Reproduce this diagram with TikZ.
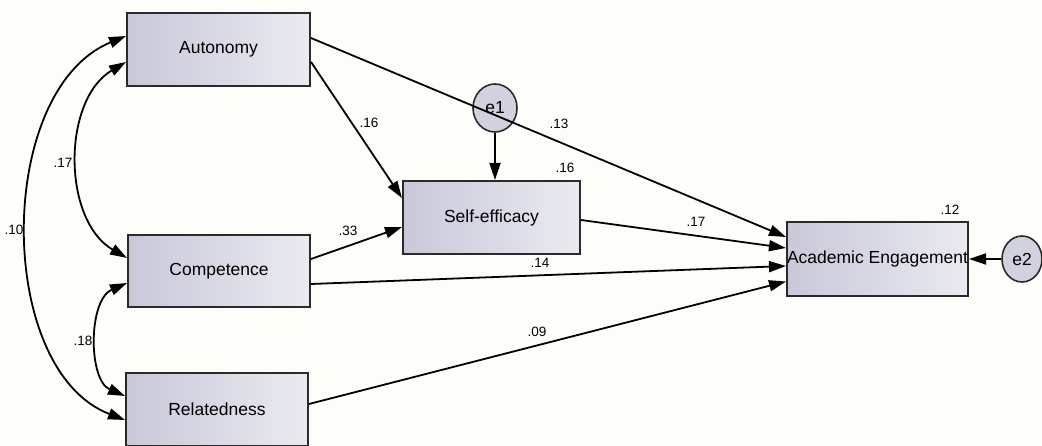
\documentclass[tikz,border=0pt]{standalone}
\usepackage{fontspec}
\setmainfont{Liberation Sans}
\usetikzlibrary{arrows.meta,calc,shapes.geometric}
\definecolor{bgc}{HTML}{FDFDF9}
\definecolor{boxl}{HTML}{C8C8D9}
\definecolor{boxr}{HTML}{EAEAF0}
\definecolor{edgec}{HTML}{2A2A2A}
\definecolor{ellc}{HTML}{D2D2DE}
\tikzset{
  box/.style={draw=edgec, line width=2pt, left color=boxl, right color=boxr, font=\fontsize{17.5}{20}\selectfont, inner sep=0pt},
  errnode/.style={ellipse, draw=edgec, line width=1.6pt, fill=ellc, font=\fontsize{17.5}{20}\selectfont, inner sep=0pt},
  arr/.style={line width=1.8pt, -{Triangle[length=17pt,width=11pt]}},
  darr/.style={line width=1.8pt, {Triangle[length=17pt,width=11pt]}-{Triangle[length=17pt,width=11pt]}},
  lab/.style={font=\fontsize{13.5}{15}\selectfont, inner sep=0pt}
}
\begin{document}
\begin{tikzpicture}[x=1pt,y=-1pt]
\useasboundingbox[fill=bgc] (0,0) rectangle (1042,446);
\node[box, minimum width=183pt, minimum height=73pt] (aut) at (218.5,49.5) {Autonomy};
\node[box, minimum width=182pt, minimum height=72pt] (comp) at (219,271) {Competence};
\node[box, minimum width=182pt, minimum height=73pt] (rel) at (217,409.5) {Relatedness};
\node[box, minimum width=177pt, minimum height=73pt] (se) at (491.5,217.5) {Self-efficacy};
\node[box, minimum width=181pt, minimum height=74pt] (ae) at (877.5,259) {Academic Engagement};
\node[errnode, minimum width=44pt, minimum height=48pt] (e1) at (495,108) {e1};
\node[errnode, minimum width=40pt, minimum height=46pt] (e2) at (1022,259) {e2};

\draw[arr] ($(aut.east)+(0,12.5)$) -- ($(se.west)+(0,-19.5)$);
\draw[arr] ($(aut.east)+(0,-11.5)$) -- ($(ae.west)+(0,-22)$);
\draw[arr] ($(comp.east)+(0,-12)$) -- ($(se.west)+(0,9.5)$);
\draw[arr] ($(se.east)+(0,2.5)$) -- ($(ae.west)+(0,-11)$);
\draw[arr] ($(comp.east)+(0,13)$) -- ($(ae.west)+(0,7)$);
\draw[arr] ($(rel.east)+(0,-5.5)$) -- ($(ae.west)+(0,22.5)$);
\draw[arr] (e1.south) -- ($(se.north)+(3.5,0)$);
\draw[arr] (e2.west) -- (ae.east);

\coordinate (a1) at ($(aut.west)+(0,12.5)$);
\coordinate (c1) at ($(comp.west)+(0,-13)$);
\coordinate (a2) at ($(aut.west)+(0,-13.5)$);
\coordinate (r2) at ($(rel.west)+(0,10.5)$);
\coordinate (c3) at ($(comp.west)+(0,12)$);
\coordinate (r3) at ($(rel.west)+(0,-13.5)$);
\draw[darr] (a1) .. controls (62,100) and (62,220) .. (c1);
\draw[darr] (a2) .. controls (-5,90) and (-5,370) .. (r2);
\draw[darr] (c3) .. controls (88,300) and (88,380) .. (r3);

\node[lab] (l1) at (63,163) {.17};
\node[lab] (l2) at (14,230) {.10};
\node[lab] (l3) at (83,341) {.18};
\node[lab] (l4) at (369,123) {.16};
\node[lab] (l5) at (559,124) {.13};
\node[lab] (l6) at (565,168) {.16};
\node[lab] (l7) at (348,231) {.33};
\node[lab] (l8) at (696,222) {.17};
\node[lab] (l9) at (540,263) {.14};
\node[lab] (l10) at (537,332) {.09};
\node[lab] (l11) at (950,210) {.12};
\end{tikzpicture}
\end{document}
